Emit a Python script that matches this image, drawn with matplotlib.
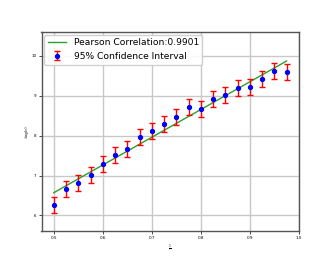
import matplotlib
matplotlib.use("Agg")
import matplotlib.pyplot as plt
import numpy as np

x = [0.5, 0.525, 0.55, 0.575, 0.6, 0.625, 0.65, 0.675, 0.7, 0.725,
     0.75, 0.775, 0.8, 0.825, 0.85, 0.875, 0.9, 0.925, 0.95, 0.975]
y = [6.26, 6.67, 6.81, 7.02, 7.29, 7.51, 7.66, 7.96, 8.12, 8.30,
     8.47, 8.71, 8.68, 8.91, 9.03, 9.19, 9.23, 9.42, 9.61, 9.60]
err = [0.2] * len(x)
fit_ends = [6.57, 9.87]
pearson = 0.9901

fig, ax = plt.subplots(figsize=(3.32, 2.66), dpi=100)
fig.subplots_adjust(left=0.125, right=0.9, top=0.88, bottom=0.13)

ax.plot([x[0], x[-1]], fit_ends, color="tab:green", lw=1,
        label=f"Pearson Correlation:{pearson}")
ax.errorbar(x, y, yerr=err, fmt="o", color="blue", ms=2.8, ecolor="red",
            elinewidth=1, capsize=2, capthick=1,
            label="95% Confidence Interval")

ax.set_xlim(0.475, 1.0)
ax.set_ylim(5.6, 10.6)
ax.set_xticks([0.5, 0.6, 0.7, 0.8, 0.9, 1.0])
ax.set_yticks([6, 7, 8, 9, 10])
ax.tick_params(labelsize=3, length=2, width=0.5, pad=1.5)
ax.set_xlabel(r"$\frac{1}{r}$", fontsize=3, labelpad=2)
ax.set_ylabel("-log(r)", fontsize=3, labelpad=2)
ax.grid(True, color="#c8c8c8", lw=1)
for s in ax.spines.values():
    s.set_color("#555555")
    s.set_linewidth(1)

ax.legend(loc="upper left", fontsize=6.6, borderaxespad=0.3, framealpha=0.9)

fig.savefig("out.png", dpi=100)
